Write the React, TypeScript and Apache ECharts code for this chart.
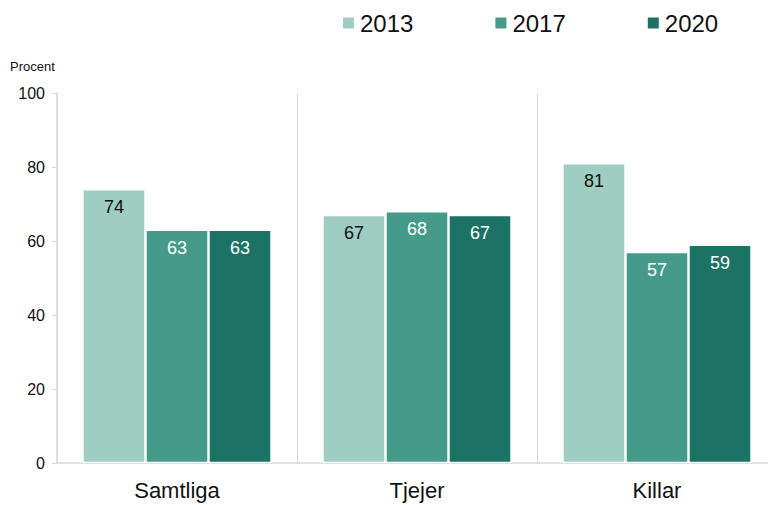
import React, { useEffect, useRef } from "react";
import * as echarts from "echarts";

const categories = ["Samtliga", "Tjejer", "Killar"];
const years = ["2013", "2017", "2020"];
const values2013 = [74, 67, 81];
const values2017 = [63, 68, 57];
const values2020 = [63, 67, 59];
const colors = ["#9fcdc2", "#459a89", "#1c7264"];
const labelColors = ["#111111", "#ffffff", "#ffffff"];
const yTicks = { min: 0, max: 100, interval: 20 };

const FONT = "Liberation Sans";

export default function App() {
  const ref = useRef<HTMLDivElement>(null);
  useEffect(() => {
    if (!ref.current) return;
    const chart = echarts.init(ref.current, undefined, { renderer: "svg" });
    const seriesData = [values2013, values2017, values2020];
    chart.setOption({
      animation: false,
      textStyle: { fontFamily: FONT },
      legend: {
        left: 336,
        top: 6,
        itemWidth: 13,
        itemHeight: 13,
        itemGap: 80,
        icon: "rect",
        textStyle: { fontSize: 24, color: "#111", fontFamily: FONT },
        data: years,
      },
      graphic: [
        {
          type: "text",
          left: 10,
          top: 60,
          style: { text: "Procent", fontSize: 13, fill: "#111", fontFamily: FONT },
        },
      ],
      grid: { left: 57, top: 93, width: 720, height: 370 },
      xAxis: {
        type: "category",
        data: categories,
        axisLine: { show: true, lineStyle: { color: "#d9d9d9", width: 1.5 } },
        axisTick: { show: false },
        splitLine: { show: true, lineStyle: { color: "#d9d9d9", width: 1 } },
        axisLabel: { fontSize: 22, color: "#111", margin: 16, fontFamily: FONT },
      },
      yAxis: {
        type: "value",
        min: yTicks.min,
        max: yTicks.max,
        interval: yTicks.interval,
        axisLine: { show: true, lineStyle: { color: "#d9d9d9", width: 1.5 } },
        axisTick: { show: true, length: 5, lineStyle: { color: "#d9d9d9" } },
        splitLine: { show: false },
        axisLabel: { fontSize: 16, color: "#111", margin: 12, fontFamily: FONT },
      },
      series: years.map((y, i) => ({
        name: y,
        type: "bar",
        data: seriesData[i],
        barWidth: 63,
        barGap: "0%",
        itemStyle: { color: colors[i], borderColor: "#ffffff", borderWidth: 1.2 },
        label: {
          show: true,
          position: "insideTop",
          distance: 9,
          fontSize: 18,
          color: labelColors[i],
          fontFamily: FONT,
        },
      })),
    });
    return () => chart.dispose();
  }, []);
  return (
    <div
      style={{
        position: "fixed",
        left: 0,
        top: 0,
        width: 768,
        height: 505,
        overflow: "hidden",
        background: "#fff",
      }}
    >
      <div ref={ref} style={{ width: 790, height: 505 }} />
    </div>
  );
}
